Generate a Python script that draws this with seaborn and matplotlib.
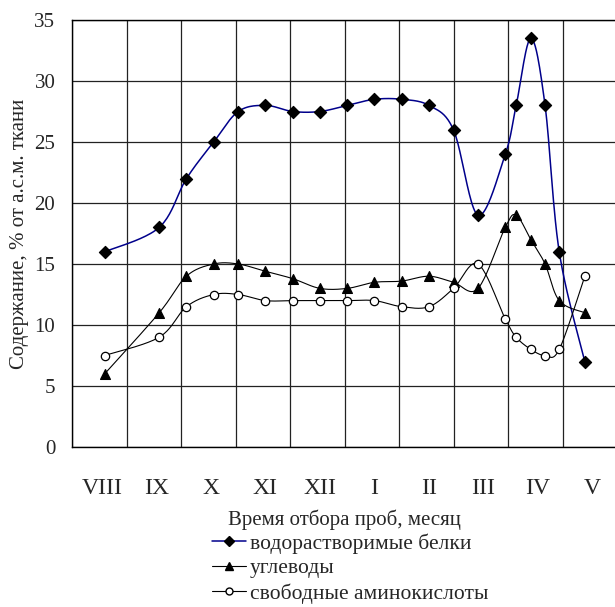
import numpy as np
import pandas as pd
import matplotlib
matplotlib.use("Agg")
import matplotlib.pyplot as plt
from matplotlib.lines import Line2D
import seaborn as sns

# Sampling dates expressed in month units (0 = start of August)
sample_pos = [0.6, 1.6, 2.1, 2.6, 3.05, 3.55, 4.05, 4.55, 5.05, 5.55,
              6.05, 6.55, 7.0, 7.45, 7.95, 8.15, 8.42, 8.68, 8.94, 9.41]
proteins = [16, 18, 22, 25, 27.5, 28, 27.5, 27.5, 28, 28.5,
            28.5, 28, 26, 19, 24, 28, 33.5, 28, 16, 7]
carbs = [6, 11, 14, 15, 15, 14.4, 13.8, 13, 13, 13.5,
         13.6, 14, 13.5, 13, 18, 19, 17, 15, 12, 11]
amino = [7.5, 9, 11.5, 12.5, 12.5, 12, 12, 12, 12, 12,
         11.5, 11.5, 13, 15, 10.5, 9, 8, 7.5, 8, 14]
months = ["VIII", "IX", "X", "XI", "XII", "I", "II", "III", "IV", "V"]
y_ticks = [0, 5, 10, 15, 20, 25, 30, 35]

series_names = ["водорастворимые белки", "углеводы", "свободные аминокислоты"]


def smooth(x, y, n=24):
    """Catmull-Rom curve through the points, as cubic Bezier segments."""
    p = np.column_stack([x, y]).astype(float)
    p = np.vstack([p[0], p, p[-1]])
    out = []
    t = np.linspace(0, 1, n)[:, None]
    for i in range(1, len(p) - 2):
        p0, p1, p2, p3 = p[i - 1], p[i], p[i + 1], p[i + 2]
        b1 = p1 + (p2 - p0) / 6.0
        b2 = p2 - (p3 - p1) / 6.0
        seg = ((1 - t) ** 3) * p1 + 3 * ((1 - t) ** 2) * t * b1 \
            + 3 * (1 - t) * t ** 2 * b2 + t ** 3 * p2
        out.append(seg if i == 1 else seg[1:])
    c = np.vstack(out)
    return c[:, 0], c[:, 1]


sns.set_theme(style="white")
plt.rcParams["font.family"] = ["Liberation Serif", "DejaVu Serif"]

fig = plt.figure(figsize=(6.15, 6.07), dpi=100)
ax = fig.add_axes([72 / 615, 1 - 447 / 607, 545 / 615, 427 / 607])

styles = [
    (proteins, "#00008B", 1.1, "D", 38, "black", "black"),
    (carbs, "black", 0.8, "^", 50, "black", "black"),
    (amino, "black", 0.8, "o", 36, "white", "black"),
]

for vals, lc, lw, mk, ms, fc, ec in styles:
    sx, sy = smooth(sample_pos, vals)
    curve = pd.DataFrame({"x": sx, "y": sy, "i": np.arange(len(sx))})
    sns.lineplot(data=curve, x="x", y="y", sort=False, estimator=None,
                 color=lc, linewidth=lw, ax=ax, zorder=3)
    pts = pd.DataFrame({"x": sample_pos, "y": vals})
    sns.scatterplot(data=pts, x="x", y="y", marker=mk, s=ms,
                    color=fc, edgecolor=ec, linewidth=0.9, ax=ax, zorder=4)

ax.set_xlim(0, 10)
ax.set_ylim(0, 35)
ax.set_xticks(np.arange(0, 11))
ax.set_xticklabels([])
ax.set_xticks(np.arange(10) + 0.55, minor=True)
ax.set_xticklabels(months, minor=True, fontsize=17)
ax.set_yticks(y_ticks)
ax.set_yticklabels([str(v) for v in y_ticks], fontsize=15)
ax.tick_params(axis="x", which="both", length=0, pad=22)
ax.tick_params(axis="y", length=0, pad=12)
ax.grid(True, which="major", color="#222222", linewidth=0.9)
ax.set_axisbelow(True)
for s in ax.spines.values():
    s.set_color("black")
    s.set_linewidth(1.0)
ax.spines["right"].set_visible(False)

ax.set_xlabel("Время отбора проб, месяц", fontsize=15, labelpad=8)
ax.set_ylabel("Содержание, % от а.с.м. ткани", fontsize=15, labelpad=4)

handles = [
    Line2D([], [], color="#00008B", lw=1.1, marker="D", ms=5,
           mfc="black", mec="black"),
    Line2D([], [], color="black", lw=0.8, marker="^", ms=6,
           mfc="black", mec="black"),
    Line2D([], [], color="black", lw=0.8, marker="o", ms=5,
           mfc="white", mec="black"),
]
fig.legend(handles, series_names, loc="upper left",
           bbox_to_anchor=(212 / 615, 1 - 533 / 607), frameon=False,
           fontsize=15.5, handlelength=1.6, handletextpad=0.15,
           labelspacing=0.22, borderaxespad=0, borderpad=0)

fig.savefig("out.png", dpi=100)
